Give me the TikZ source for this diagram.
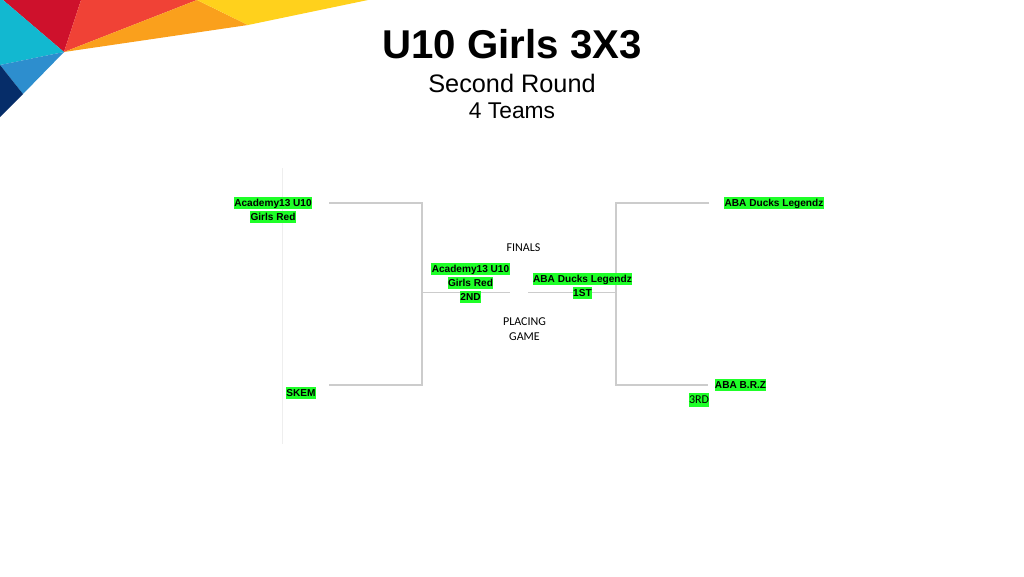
\documentclass[tikz,border=0pt]{standalone}
\usepackage{fontspec}
\setmainfont{Liberation Sans}
\newfontfamily\notefont{Carlito}
\usetikzlibrary{
  calc
}
\definecolor{hlgreen}{RGB}{30,255,40}
\definecolor{bracketgray}{RGB}{204,204,204}
\definecolor{faintgray}{RGB}{238,238,238}
\newcommand{\hlbox}[1]{{\setlength{\fboxsep}{0pt}\colorbox{hlgreen}{\rule[-2.4pt]{0pt}{11.6pt}\hspace{0.3pt}#1\hspace{0.3pt}}}}
\newcommand{\hlboxtall}[1]{{\setlength{\fboxsep}{0pt}\colorbox{hlgreen}{\rule[-3.4pt]{0pt}{14.6pt}#1}}}
\tikzset{
team/.style={inner sep=0pt, align=center, font=\fontsize{10.1}{14}\selectfont\bfseries},
note/.style={inner sep=0pt, align=center, font=\notefont\fontsize{12}{15}\selectfont},
bracket/.style={draw=bracketgray, line width=1.3pt},
thinbracket/.style={draw=bracketgray, line width=1pt}
}

\begin{document}
\begin{tikzpicture}[x=1pt, y=-1pt]
 \useasboundingbox (0,0) rectangle (1024,576);
 % banner
 \fill[fill={rgb,255:red,206;green,17;blue,44}] (3,0) -- (81,0) -- (64,52) -- cycle;
 \fill[fill={rgb,255:red,18;green,184;blue,208}] (0,0) -- (3,0) -- (64,52) -- (0,65) -- cycle;
 \fill[fill={rgb,255:red,45;green,142;blue,206}] (0,65) -- (64,52) -- (23,94) -- cycle;
 \fill[fill={rgb,255:red,6;green,45;blue,105}] (0,65) -- (23,94) -- (0,117) -- cycle;
 \fill[fill={rgb,255:red,240;green,66;blue,54}] (81,0) -- (197,0) -- (64,52) -- cycle;
 \fill[fill={rgb,255:red,250;green,160;blue,28}] (197,0) -- (248,25) -- (64,52) -- cycle;
 \fill[fill={rgb,255:red,255;green,209;blue,28}] (197,0) -- (368,0) -- (248,25) -- cycle;
 % titles
 \node[inner sep=0pt, font=\fontsize{40.2}{45}\selectfont\bfseries] (title) at (512,44) {U10 Girls 3X3};
 \node[inner sep=0pt, font=\fontsize{25.3}{28}\selectfont] (round) at (512,83) {Second Round};
 \node[inner sep=0pt, font=\fontsize{22.8}{24}\selectfont] (count) at (512,111) {4 Teams};
 % brackets
 \draw[draw=faintgray, line width=0.7pt] (282,168) coordinate (railtop) -- (282,444) coordinate (railbot);
 \coordinate (leftA) at (329,203);
 \coordinate (leftB) at (329,385);
 \coordinate (leftC) at (422,292);
 \coordinate (leftD) at (510,292);
 \coordinate (rightA) at (709,203);
 \coordinate (rightB) at (708,385);
 \coordinate (rightC) at (616,292);
 \coordinate (rightD) at (528,292);
 \draw[bracket] (leftA) -| (leftC) |- (leftB);
 \draw[thinbracket] (leftC) -- (leftD);
 \draw[bracket] (rightA) -| (rightC) |- (rightB);
 \draw[thinbracket] (rightC) -- (rightD);
 % labels
 \node[team] (academy) at (273,210) {\hlbox{Academy13 U10}\\\hlbox{Girls Red}};
 \node[team] (skem) at (301,393) {\hlbox{SKEM}};
 \node[team] (ducks) at (774,203) {\hlbox{ABA Ducks Legendz}};
 \node[team] (brz) at (740.5,385) {\hlbox{ABA B.R.Z}};
 \node[team, font=\notefont\fontsize{12}{14}\selectfont] (third) at (699,400) {\hlboxtall{3RD}};
 \node[team] (second) at (470.5,283) {\hlbox{Academy13 U10}\\\hlbox{Girls Red}\\\hlbox{2ND}};
 \node[team] (first) at (582.5,286) {\hlbox{ABA Ducks Legendz}\\\hlbox{1ST}};
 \node[note] (finals) at (523.5,247.5) {FINALS};
 \node[note] (placing) at (524.5,329) {PLACING\\GAME};
\end{tikzpicture}
\end{document}
